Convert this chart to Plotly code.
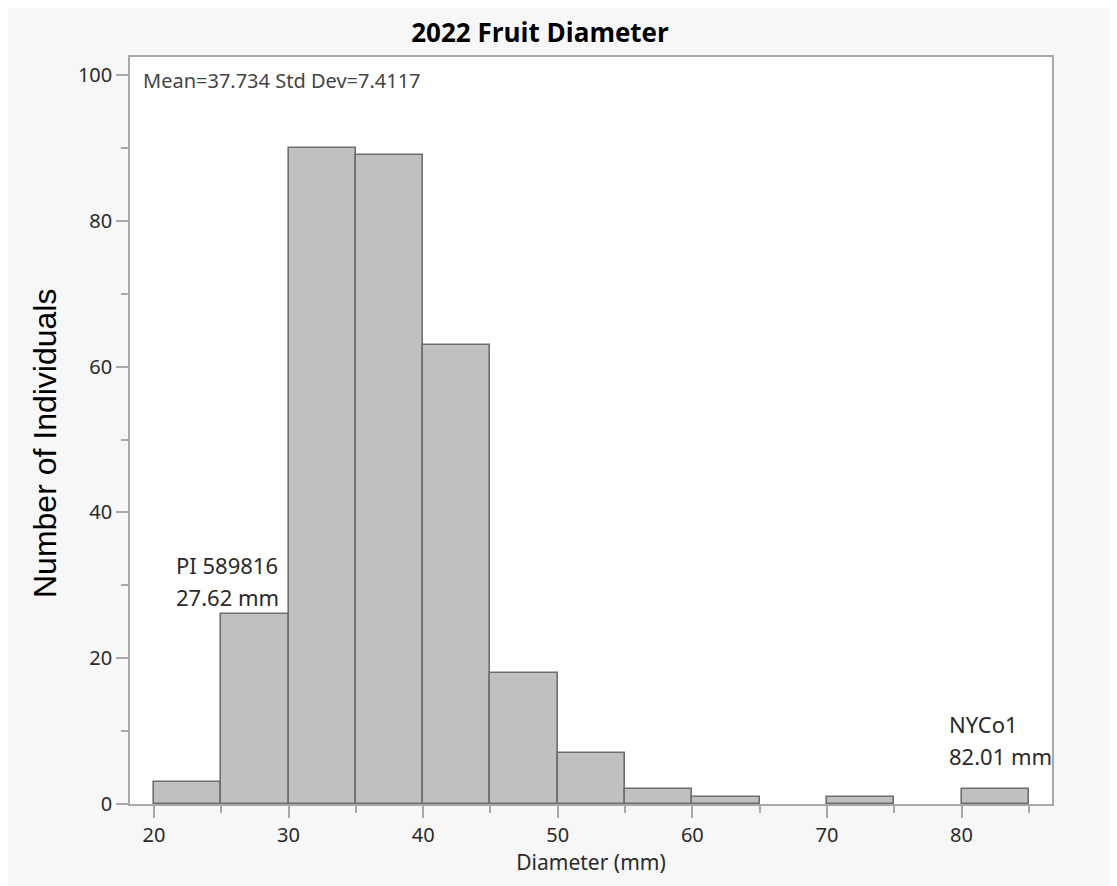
import plotly.graph_objects as go

# Data: histogram bins (5 mm wide) and counts
bin_starts = [20, 25, 30, 35, 40, 45, 50, 55, 60, 65, 70, 75, 80]
counts = [3, 26, 90, 89, 63, 18, 7, 2, 1, 0, 1, 0, 2]
bin_width = 5
x_ticks = [20, 30, 40, 50, 60, 70, 80]
y_ticks = [0, 20, 40, 60, 80, 100]

centers = [b + bin_width / 2 for b in bin_starts]
# empty bins draw nothing (no outline along the axis)
bar_heights = [c if c > 0 else None for c in counts]

# The page body has an 8px margin; figure starts at (8, 8) on the page.
OFF = 8
W, H = 1117 - OFF, 886 - OFF
L, R, T, B = 130 - OFF, 65, 57 - OFF, 82
PW, PH = W - L - R, H - T - B

def px_x(p):  # page pixel -> paper x
    return (p - OFF - L) / PW

def px_y(p):  # page pixel -> paper y
    return (H - B - (p - OFF)) / PH

TICKFONT = "Noto Sans, Open Sans, sans-serif"
TXT = "#2a2a2a"

fig = go.Figure()
fig.add_trace(go.Bar(
    x=centers, y=bar_heights, width=bin_width,
    marker=dict(color="#c0c0c0", line=dict(color="#6b706b", width=1.6)),
    hoverinfo="x+y", showlegend=False,
))

axis_common = dict(
    showline=True, linecolor="#a8a8a8", linewidth=1.5, mirror=True,
    ticks="outside", ticklen=12, tickcolor="#a8a8a8", tickwidth=1.5,
    showgrid=False, zeroline=False,
    tickfont=dict(family=TICKFONT, size=20, color=TXT),
)

fig.update_layout(
    width=W, height=H,
    margin=dict(l=L, r=R, t=T, b=B),
    paper_bgcolor="#f7f7f7", plot_bgcolor="#ffffff",
    bargap=0,
    title=dict(text="<b>2022 Fruit Diameter</b>", x=(540 - OFF) / W, xref="container", xanchor="center",
               y=1 - (33 - OFF) / H, yref="container", yanchor="middle",
               font=dict(family="Open Sans, Noto Sans, sans-serif", size=26, color="#000000")),
    xaxis=dict(range=[18.22, 86.72], tickvals=x_ticks,
               minor=dict(dtick=5, tick0=20, ticks="outside", ticklen=7, tickcolor="#a8a8a8", tickwidth=1.5),
               title=dict(text="Diameter (mm)", standoff=8,
                          font=dict(family=TICKFONT, size=21, color=TXT)),
               **axis_common),
    yaxis=dict(range=[0, 102.47], tickvals=y_ticks,
               minor=dict(dtick=10, tick0=0, ticks="outside", ticklen=7, tickcolor="#a8a8a8", tickwidth=1.5),
               **axis_common),
    annotations=[
        dict(text="Number of Individuals", xref="paper", yref="paper", x=px_x(45), y=px_y(444),
             textangle=-90, showarrow=False, xanchor="center", yanchor="middle",
             font=dict(family="Liberation Sans, Arial, sans-serif", size=32, color="#000000")),
        dict(text="Mean=37.734 Std Dev=7.4117", xref="paper", yref="paper", x=px_x(141), y=px_y(81),
             showarrow=False, xanchor="left", yanchor="middle",
             font=dict(family=TICKFONT, size=20, color="#444444")),
        dict(text="PI 589816", xref="x", yref="y", x=21.5, y=32.8, showarrow=False,
             xanchor="left", yanchor="middle", font=dict(family=TICKFONT, size=22, color=TXT)),
        dict(text="27.62 mm", xref="x", yref="y", x=21.5, y=28.4, showarrow=False,
             xanchor="left", yanchor="middle", font=dict(family=TICKFONT, size=22, color=TXT)),
        dict(text="NYCo1", xref="x", yref="y", x=78.95, y=10.97, showarrow=False,
             xanchor="left", yanchor="middle", font=dict(family=TICKFONT, size=22, color=TXT)),
        dict(text="82.01 mm", xref="x", yref="y", x=78.95, y=6.58, showarrow=False,
             xanchor="left", yanchor="middle", font=dict(family=TICKFONT, size=22, color=TXT)),
    ],
)

fig.write_html("out.html")
